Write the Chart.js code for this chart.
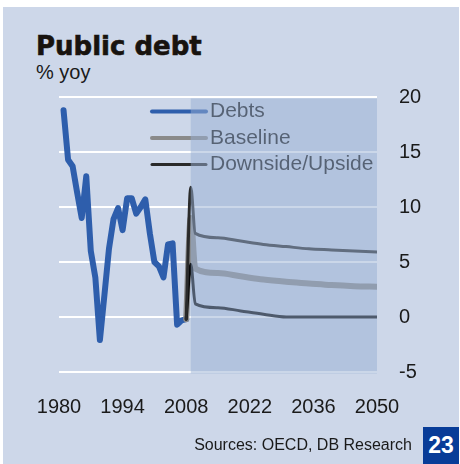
<!DOCTYPE html>
<html>
<head>
<meta charset="utf-8">
<script src="https://cdn.jsdelivr.net/npm/chart.js@4.4.1/dist/chart.umd.min.js"></script>
<style>
  html, body { margin: 0; padding: 0; background: #fff; }
  #wrap { position: relative; width: 460px; height: 464px; overflow: hidden; }
  #panel { position: absolute; left: 3px; top: 7px; width: 456px; height: 457px; background: #cdd7e9; }
  #chart { position: absolute; left: 0; top: 0; }
  .txt { position: absolute; white-space: nowrap; color: #1a1a1a; }
  #title { left: 36px; top: 33px; font: bold 26px/26px 'DejaVu Sans', sans-serif; color: #18130f;
           -webkit-text-stroke: 0.6px #18130f; }
  #sub { left: 36px; top: 62px; font: 20px/20px 'Liberation Sans', Arial, sans-serif; }
  #src { right: 48px; top: 437px; font: 16px/16px 'Liberation Sans', Arial, sans-serif; }
  #page { position: absolute; left: 423px; top: 427px; width: 36px; height: 37px; background: #083c98;
          color: #fff; font: bold 23px/37px 'Liberation Sans', Arial, sans-serif; text-align: center; }
</style>
</head>
<body>
<div id="wrap">
  <div id="panel"></div>
  <div class="txt" id="title">Public debt</div>
  <div class="txt" id="sub">% yoy</div>
  <canvas id="chart" width="460" height="464"></canvas>
  <div class="txt" id="src">Sources: OECD, DB Research</div>
  <div id="page">23</div>
</div>
<script>
// ---------- data ----------
const histYears = [1981, 1982, 1983, 1984, 1985, 1986, 1987, 1988, 1989, 1990,
                   1991, 1992, 1993, 1994, 1995, 1996, 1997, 1998, 1999, 2000,
                   2001, 2002, 2003, 2004, 2005, 2006, 2007, 2008];
const debts = [18.8, 14.3, 13.7, 11.3, 9.0, 12.8, 6.0, 3.6, -2.1, 2.0,
               6.2, 8.9, 9.9, 7.9, 10.8, 10.8, 9.4, 10.0, 10.7, 7.6,
               5.0, 4.6, 3.6, 6.6, 6.7, -0.7, -0.3, -0.2];

const projYears = [2008, 2009, 2010, 2015, 2020, 2025, 2030, 2035, 2040, 2045, 2050];
const baseline  = [-0.2, 9.0, 4.4, 4.0, 3.7, 3.4, 3.2, 3.05, 2.9, 2.8, 2.75];
const upside    = [-0.2, 11.8, 7.6, 7.2, 6.9, 6.6, 6.4, 6.2, 6.1, 6.0, 5.9];
const downside  = [-0.2, 4.8, 1.2, 0.85, 0.55, 0.25, 0.0, 0.0, 0.0, 0.0, 0.0];

const xTicks = [1980, 1994, 2008, 2022, 2036, 2050];
const yTicks = [-5, 0, 5, 10, 15, 20];
const forecastFrom = 2009;   // shaded projection period starts here

const legendItems = ['Debts', 'Baseline', 'Downside/Upside'];

function pts(xs, ys) { return xs.map((x, i) => ({ x: x, y: ys[i] })); }

// ---------- plugins ----------
// legend drawn inside the plot, then the translucent projection band over everything
const insetLegendAndBand = {
  id: 'insetLegendAndBand',
  afterDatasetsDraw(chart) {
    const ctx = chart.ctx;
    const area = chart.chartArea;
    const x = chart.scales.x;

    // legend
    const styles = [
      { color: '#2e5eac', width: 4 },
      { color: '#8a8a8a', width: 4 },
      { color: '#2a2a2a', width: 3 }
    ];
    ctx.save();
    ctx.font = "21px 'Liberation Sans', Arial, sans-serif";
    ctx.textBaseline = 'middle';
    ctx.textAlign = 'left';
    legendItems.forEach((label, i) => {
      const y = area.top + 14.5 + i * 26.5;
      ctx.strokeStyle = styles[i].color;
      ctx.lineWidth = styles[i].width;
      ctx.lineCap = 'round';
      ctx.beginPath();
      ctx.moveTo(area.left + 93, y);
      ctx.lineTo(area.left + 147, y);
      ctx.stroke();
      ctx.fillStyle = '#141414';
      ctx.fillText(label, area.left + 151, y);
    });

    // projection band
    const left = x.getPixelForValue(forecastFrom);
    ctx.fillStyle = 'rgba(151,175,211,0.5)';
    ctx.fillRect(left, area.top + 1.5, area.right - left, area.bottom - area.top);
    ctx.restore();
  }
};

// ---------- chart ----------
const lineBase = {
  pointRadius: 0,
  pointHoverRadius: 0,
  fill: false,
  borderJoinStyle: 'round',
  borderCapStyle: 'round'
};

new Chart(document.getElementById('chart').getContext('2d'), {
  type: 'line',
  data: {
    datasets: [
      Object.assign({ label: 'Upside', data: pts(projYears, upside), borderColor: '#2a2a2a',
        borderWidth: 3, cubicInterpolationMode: 'monotone', order: 1 }, lineBase),
      Object.assign({ label: 'Downside', data: pts(projYears, downside), borderColor: '#050505',
        borderWidth: 3, cubicInterpolationMode: 'monotone', order: 1 }, lineBase),
      Object.assign({ label: 'Baseline', data: pts(projYears, baseline), borderColor: '#8a8a8a',
        borderWidth: 6, cubicInterpolationMode: 'monotone', order: 2 }, lineBase),
      Object.assign({ label: 'Debts', data: pts(histYears, debts), borderColor: '#2e5eac',
        borderWidth: 6, tension: 0, order: 3 }, lineBase)
    ]
  },
  options: {
    responsive: false,
    animation: false,
    events: [],
    layout: { padding: { left: 59, top: 97, right: 0, bottom: 42 } },
    plugins: { legend: { display: false }, tooltip: { enabled: false } },
    font: { family: "'Liberation Sans', Arial, sans-serif" },
    scales: {
      x: {
        type: 'linear',
        min: 1980,
        max: 2050,
        afterBuildTicks: s => { s.ticks = xTicks.map(v => ({ value: v })); },
        afterFit: s => { s.height = 50; },
        grid: { display: false, drawTicks: false },
        border: { display: false },
        ticks: {
          color: '#1a1a1a',
          padding: 23,
          maxRotation: 0,
          autoSkip: false,
          font: { family: "'Liberation Sans', Arial, sans-serif", size: 20 },
          callback: v => String(v)
        }
      },
      y: {
        position: 'right',
        min: -5,
        max: 20,
        afterBuildTicks: s => { s.ticks = yTicks.map(v => ({ value: v })); },
        afterFit: s => { s.width = 83; },
        grid: { color: '#ffffff', lineWidth: 2, drawTicks: false },
        border: { display: false },
        ticks: {
          color: '#1a1a1a',
          padding: 22,
          crossAlign: 'near',
          font: { family: "'Liberation Sans', Arial, sans-serif", size: 20 },
          callback: v => String(v)
        }
      }
    }
  },
  plugins: [insetLegendAndBand]
});
</script>
</body>
</html>
